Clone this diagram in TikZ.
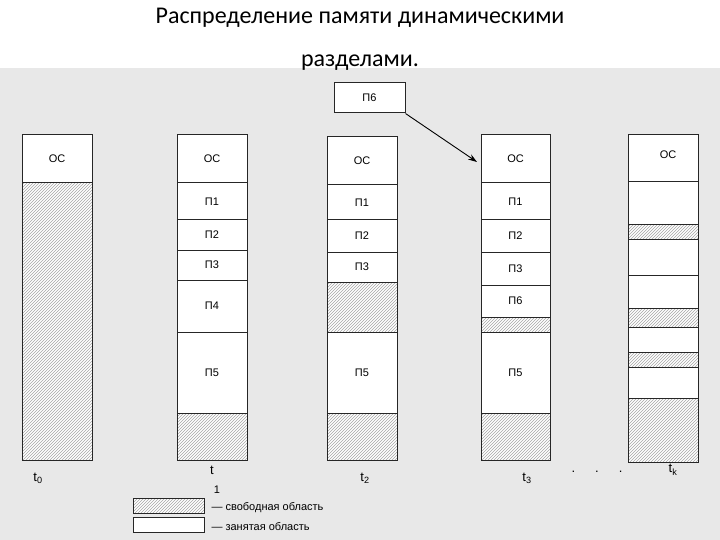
\documentclass[tikz,border=0pt]{standalone}
\usepackage{fontspec}
\setmainfont{Liberation Sans}
\newfontfamily\titlefont{Carlito}
\usetikzlibrary{patterns,arrows.meta}
\begin{document}
\begin{tikzpicture}[x=1pt,y=-1pt,
  cell/.style={draw=black!85,line width=1pt},
  free/.style={cell,pattern=north east lines,pattern color=black!35},
  lab/.style={font=\fontsize{11}{13}\selectfont},
  tl/.style={font=\fontsize{13}{15}\selectfont}]
\useasboundingbox (0,0) rectangle (720,540);
\fill[black!9] (0,68) rectangle (720,540);
\fill[white] (0,0) rectangle (720,68);
\node[font=\titlefont\fontsize{24}{28}\selectfont] (title1) at (360,18) {Распределение памяти динамическими};
\node[font=\titlefont\fontsize{24}{28}\selectfont] (title2) at (360,63) {разделами.};
\newcommand{\cellbox}[6]{\draw[#1,fill=white] (#2,#3) rectangle (#4,#5); \node[lab] at ({(#2+#4)/2},{(#3+#5)/2}) {#6};}
\newcommand{\freebox}[4]{\fill[white] (#1,#2) rectangle (#3,#4); \draw[free] (#1,#2) rectangle (#3,#4);}
% col 1
\cellbox{cell}{22}{135}{92}{183}{ОС}
\freebox{22}{183}{92}{460}
% col 2
\cellbox{cell}{177}{135}{247}{183}{ОС}
\cellbox{cell}{177}{183}{247}{220}{П1}
\cellbox{cell}{177}{220}{247}{250}{П2}
\cellbox{cell}{177}{250}{247}{280}{П3}
\cellbox{cell}{177}{280}{247}{332}{П4}
\cellbox{cell}{177}{332}{247}{413}{П5}
\freebox{177}{413}{247}{460}
% col 3
\cellbox{cell}{327}{137}{397}{185}{ОС}
\cellbox{cell}{327}{185}{397}{220}{П1}
\cellbox{cell}{327}{220}{397}{252}{П2}
\cellbox{cell}{327}{252}{397}{282}{П3}
\freebox{327}{282}{397}{332}
\cellbox{cell}{327}{332}{397}{413}{П5}
\freebox{327}{413}{397}{460}
% col 4
\cellbox{cell}{481}{135}{550}{183}{ОС}
\cellbox{cell}{481}{183}{550}{220}{П1}
\cellbox{cell}{481}{220}{550}{252}{П2}
\cellbox{cell}{481}{252}{550}{285}{П3}
\cellbox{cell}{481}{285}{550}{317}{П6}
\freebox{481}{317}{550}{332}
\cellbox{cell}{481}{332}{550}{413}{П5}
\freebox{481}{413}{550}{460}
% col 5
\cellbox{cell}{628}{135}{698}{182}{}
\node[lab] (os5) at (668,155) {ОС};
\cellbox{cell}{628}{182}{698}{225}{}
\freebox{628}{225}{698}{239}
\cellbox{cell}{628}{239}{698}{275}{}
\cellbox{cell}{628}{275}{698}{308}{}
\freebox{628}{308}{698}{327}
\cellbox{cell}{628}{327}{698}{352}{}
\freebox{628}{352}{698}{367}
\cellbox{cell}{628}{367}{698}{398}{}
\freebox{628}{398}{698}{462}
% P6 box and arrow
\node[cell,fill=white,minimum width=71pt,minimum height=30pt,lab] (p6) at (369.5,98) {П6};
\coordinate (target) at (477,162);
\draw[line width=0.9pt,-{Stealth[length=9pt,width=6pt]}] (p6.south east) -- (target);
% time labels
\node[tl] (t0) at (38,478) {t\textsubscript{0}};
\node[tl] (t1) at (212,470) {t};
\node[lab] (t1s) at (217,490) {1};
\node[tl] (t2) at (365,478) {t\textsubscript{2}};
\node[tl] (t3) at (527,478) {t\textsubscript{3}};
\node[tl] (dots) at (597,472) {.\hspace{20pt}.\hspace{20pt}.};
\node[tl] (tk) at (673,470) {t\textsubscript{k}};
% legend
\freebox{133}{498}{204}{513}
\draw[cell,fill=white] (133,517) rectangle (204,532);
\node[lab,anchor=west] (leg1) at (208,508) {— свободная область};
\node[lab,anchor=west] (leg2) at (208,527) {— занятая область};
\end{tikzpicture}
\end{document}
